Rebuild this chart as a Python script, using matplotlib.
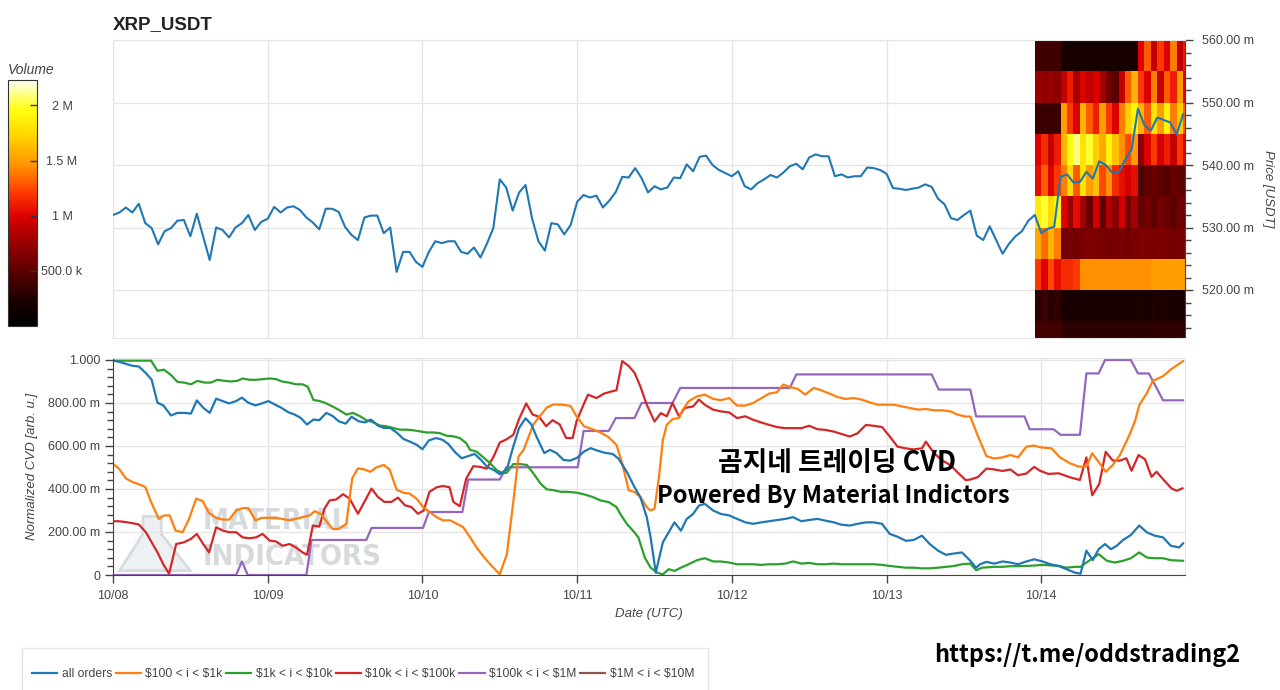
import numpy as np
import matplotlib
matplotlib.use("Agg")
import matplotlib.pyplot as plt
from matplotlib.colors import LinearSegmentedColormap
from matplotlib.ticker import FixedLocator, FuncFormatter, AutoMinorLocator
from matplotlib.patches import Polygon, Rectangle

plt.rcParams['font.family'] = ['Liberation Sans', 'DejaVu Sans']

# ---------------- data ----------------
title = "XRP_USDT"
day_labels = ["10/08", "10/09", "10/10", "10/11", "10/12", "10/13", "10/14"]
day_hours = [0, 24, 48, 72, 96, 120, 144]

# hourly price (milli-USDT), hour 0 = 10/08 00:00 UTC
price_hours = list(range(167))
price_musdt = [
    532.0, 532.4, 533.2, 532.4, 533.8, 530.7, 529.9, 527.3, 529.4, 529.9,
    531.1, 531.2, 528.6, 532.2, 528.5, 524.8, 530.0, 529.6, 528.4, 530.0,
    530.7, 532.0, 529.6, 530.9, 531.4, 533.3, 532.4, 533.2, 533.4, 532.8,
    531.6, 530.8, 529.7, 533.0, 533.0, 532.5, 530.1, 528.8, 528.0, 531.6,
    531.9, 531.9, 529.1, 530.0, 522.9, 526.1, 526.1, 524.5, 523.7, 526.1,
    527.8, 527.5, 527.8, 527.8, 526.1, 525.8, 526.8, 525.2, 527.4, 529.9,
    537.7, 536.4, 532.7, 535.6, 536.8, 531.5, 527.8, 526.3, 530.7, 530.5,
    528.9, 530.4, 534.1, 535.2, 534.8, 535.1, 533.2, 534.3, 535.7, 538.1,
    538.0, 539.5, 537.9, 535.6, 536.6, 536.1, 536.4, 538.0, 537.9, 540.1,
    539.0, 541.3, 541.5, 540.0, 539.2, 538.7, 538.2, 539.0, 536.6, 536.1,
    537.1, 537.7, 538.4, 538.0, 538.8, 539.8, 540.2, 539.3, 541.2, 541.7,
    541.4, 541.4, 538.2, 538.5, 538.0, 538.2, 538.2, 539.6, 539.5, 539.2,
    538.6, 536.3, 536.2, 536.0, 536.2, 536.4, 536.9, 536.5, 534.6, 533.7,
    531.5, 531.2, 532.0, 532.7, 528.7, 528.0, 530.2, 528.0, 525.8, 527.4,
    528.6, 529.4, 531.1, 532.0, 529.1, 529.8, 530.1, 538.1, 538.5, 537.2,
    537.3, 538.9, 537.8, 540.6, 540.0, 538.8, 538.8, 540.8, 542.4, 549.0,
    546.4, 545.5, 547.6, 547.2, 546.8, 544.9, 548.1,
]

# volume profile heatmap (millions), rows = price bins 510..560 step 5 (bottom->top), cols = hours 143..166
vol_hour_edges = list(range(143, 168))
vol_price_edges_musdt = [510, 515, 520, 525, 530, 535, 540, 545, 550, 555, 560]
volume_M = [
    [0.40, 0.40, 0.38, 0.40, 0.32, 0.30, 0.30, 0.32, 0.30, 0.30, 0.32, 0.30, 0.30, 0.32, 0.30, 0.30, 0.32, 0.30, 0.32, 0.30, 0.30, 0.32, 0.30, 0.30],
    [0.30, 0.35, 0.28, 0.32, 0.22, 0.22, 0.22, 0.22, 0.22, 0.22, 0.22, 0.22, 0.22, 0.22, 0.22, 0.22, 0.24, 0.22, 0.24, 0.22, 0.24, 0.22, 0.22, 0.22],
    [1.20, 1.00, 1.25, 1.05, 1.15, 1.15, 1.20, 1.45, 1.45, 1.45, 1.45, 1.45, 1.45, 1.45, 1.45, 1.45, 1.45, 1.45, 1.50, 1.50, 1.50, 1.50, 1.50, 1.50],
    [1.55, 1.35, 1.60, 1.40, 0.60, 0.62, 0.60, 0.62, 0.65, 0.63, 0.62, 0.60, 0.62, 0.63, 0.60, 0.62, 0.65, 0.63, 0.62, 0.64, 0.62, 0.60, 0.62, 0.63],
    [1.85, 2.00, 1.75, 1.90, 1.00, 0.75, 1.05, 0.80, 0.55, 0.95, 0.50, 0.85, 0.70, 0.95, 0.60, 0.80, 0.55, 0.60, 0.50, 0.60, 0.55, 0.50, 0.60, 0.55],
    [1.05, 1.30, 1.00, 1.20, 1.40, 1.75, 1.30, 1.80, 1.50, 1.65, 1.25, 1.45, 1.15, 1.05, 0.95, 1.05, 0.45, 0.50, 0.55, 0.50, 0.45, 0.55, 0.50, 0.50],
    [1.00, 1.15, 0.90, 1.10, 1.60, 1.95, 2.10, 1.80, 2.00, 1.70, 1.55, 1.90, 1.65, 1.45, 1.25, 1.50, 0.70, 1.00, 1.20, 0.95, 1.10, 0.90, 1.20, 1.00],
    [0.35, 0.35, 0.35, 0.35, 1.50, 1.20, 1.00, 1.60, 1.30, 1.10, 1.50, 1.20, 1.00, 1.40, 1.70, 1.90, 1.60, 1.30, 1.80, 1.50, 1.90, 1.40, 1.70, 1.30],
    [0.75, 0.70, 0.75, 0.70, 0.90, 1.10, 0.80, 1.00, 0.90, 1.00, 0.80, 0.60, 0.50, 0.90, 1.30, 1.60, 1.20, 1.00, 1.40, 0.90, 1.30, 1.10, 1.50, 1.00],
    [0.38, 0.38, 0.38, 0.38, 0.20, 0.20, 0.20, 0.20, 0.20, 0.20, 0.20, 0.20, 0.20, 0.20, 0.20, 0.20, 1.00, 1.30, 0.90, 1.20, 1.00, 1.40, 0.90, 1.10],
]
vol_ticks_M = [0.5, 1.0, 1.5, 2.0]
vol_tick_labels = ["500.0 k", "1 M", "1.5 M", "2 M"]

# normalized CVD series (hours, value)
all_t = [0, 0.9, 3.0, 4.0, 5.1, 6.0, 6.9, 7.8, 9.0, 10.0, 11.0, 12.1, 13.0, 14.0, 15.0, 16.0, 17.0, 18.0, 19.1, 20.0,
         21.0, 22.1, 23.1, 24.1, 25.1, 26.1, 27.2, 28.2, 29.1, 30.1, 31.1, 32.0, 33.1, 34.1, 35.0, 36.1, 37.0, 38.1, 39.1, 40.0,
         41.1, 42.0, 43.0, 44.1, 45.1, 46.0, 47.1, 48.0, 49.0, 50.1, 51.1, 52.0, 53.1, 54.1, 55.2, 56.1, 57.1, 58.1, 59.1, 60.0,
         61.1, 62.1, 63.0, 64.0, 64.9, 65.8, 66.9, 67.8, 68.8, 69.9, 70.9, 72.0, 73.1, 74.1, 75.0,
         76.2, 77.5, 78.4, 79.7, 80.9, 81.8, 82.8, 83.4, 84.2, 85.3, 86.2, 87.1, 88.1, 89.0, 90.0, 90.9, 91.8, 93.1, 94.3, 95.6,
         96.8, 98.1, 99.3, 100.6, 102.4, 104.3, 105.5, 106.8, 108.0, 109.3, 110.5, 111.8, 113.0, 114.3, 115.5, 116.8, 118.0, 119.3,
         120.5, 121.7, 123.0, 124.2, 125.5, 126.7, 128.0, 129.2, 130.5, 131.7, 133.0, 133.9, 134.5, 135.5, 136.7, 138.0, 139.2,
         140.4, 141.7, 142.9, 144.2, 145.4, 146.7, 147.9, 149.2, 150.1, 151.0, 152.0, 152.9, 153.9, 154.8, 155.7, 156.7, 157.9,
         159.2, 160.4, 161.6, 162.9, 164.1, 165.4, 166.0]
all_v = [0.997, 0.992, 0.973, 0.970, 0.939, 0.908, 0.801, 0.789, 0.742, 0.754, 0.754, 0.751, 0.812, 0.778, 0.754, 0.820, 0.809, 0.798, 0.809, 0.825,
         0.801, 0.789, 0.798, 0.809, 0.793, 0.778, 0.757, 0.746, 0.731, 0.700, 0.723, 0.720, 0.754, 0.739, 0.715, 0.704, 0.736, 0.715, 0.710, 0.723,
         0.695, 0.684, 0.684, 0.660, 0.632, 0.621, 0.606, 0.585, 0.626, 0.637, 0.629, 0.610, 0.570, 0.543, 0.554, 0.563, 0.535, 0.501, 0.488, 0.469,
         0.491, 0.598, 0.684, 0.729, 0.700, 0.637, 0.567, 0.582, 0.567, 0.535, 0.532, 0.545, 0.575, 0.590, 0.580,
         0.569, 0.563, 0.542, 0.480, 0.409, 0.363, 0.269, 0.175, 0.011, 0.152, 0.198, 0.245, 0.206, 0.261, 0.284, 0.323, 0.331, 0.300, 0.284, 0.277,
         0.261, 0.245, 0.238, 0.245, 0.253, 0.261, 0.269, 0.250, 0.256, 0.261, 0.253, 0.245, 0.234, 0.230, 0.238, 0.245, 0.245, 0.238,
         0.191, 0.178, 0.159, 0.163, 0.183, 0.144, 0.113, 0.094, 0.100, 0.105, 0.066, 0.034, 0.050, 0.061, 0.053, 0.063, 0.058,
         0.050, 0.063, 0.073, 0.063, 0.050, 0.042, 0.027, 0.011, 0.006, 0.113, 0.069, 0.120, 0.144, 0.120, 0.136, 0.163, 0.186,
         0.230, 0.198, 0.183, 0.175, 0.136, 0.128, 0.147]

o100_t = [0, 0.9, 2.0, 3.0, 4.0, 5.0, 5.9, 7.1, 7.9, 8.8, 9.7, 10.8, 11.8, 12.9, 13.9, 14.9, 16.0, 17.0, 18.0, 19.1,
          20.1, 21.0, 22.1, 23.1, 24.2, 25.2, 26.2, 27.3, 28.4, 29.4, 30.5, 31.3, 32.3, 33.1, 34.1, 35.0, 36.2, 37.1, 38.0, 39.0,
          39.9, 40.9, 42.0, 42.9, 44.0, 45.1, 46.0, 47.1, 48.1, 49.1, 50.2, 51.2, 52.3, 53.3, 54.3, 55.4, 56.4, 57.4, 58.5, 59.5,
          60.0, 61.1, 62.1, 62.9, 63.7, 64.4, 65.2, 66.3, 67.3, 68.3, 69.4, 70.4, 71.0,
          71.9, 73.1, 74.4, 75.6, 76.9, 78.1, 79.0, 80.0, 80.9, 81.8, 82.8, 83.4, 84.0, 84.7, 85.3, 85.9, 86.8, 87.8, 88.4, 89.3,
          90.6, 91.8, 93.1, 94.3, 95.6, 96.8, 98.1, 99.3, 100.6, 101.8, 103.0, 104.0, 104.9, 106.2, 107.4, 108.7, 109.9, 111.1,
          112.4, 113.6, 114.9, 116.1, 117.4, 118.6, 119.9, 121.1, 122.4, 123.6, 124.9, 126.1, 127.4, 128.6, 129.9, 131.1, 132.3,
          133.0, 134.2, 135.5, 136.7, 138.0, 139.2, 140.4, 141.7, 142.9, 143.8, 145.6, 146.9, 148.5, 149.8, 151.0, 151.9, 153.0,
          154.0, 155.1, 156.2, 157.2, 158.0, 158.6, 159.2, 160.4, 161.3, 162.9, 164.1, 166.0]
o100_v = [0.516, 0.496, 0.449, 0.433, 0.422, 0.410, 0.340, 0.261, 0.277, 0.277, 0.207, 0.199, 0.261, 0.355, 0.344, 0.288, 0.266, 0.258, 0.257, 0.300,
          0.311, 0.311, 0.254, 0.266, 0.266, 0.266, 0.261, 0.254, 0.261, 0.269, 0.277, 0.297, 0.282, 0.250, 0.214, 0.214, 0.238, 0.449, 0.496, 0.491,
          0.480, 0.501, 0.512, 0.491, 0.397, 0.382, 0.379, 0.355, 0.316, 0.293, 0.269, 0.254, 0.254, 0.239, 0.223, 0.175, 0.128, 0.089, 0.050, 0.019,
          0.003, 0.097, 0.340, 0.551, 0.582, 0.637, 0.700, 0.742, 0.779, 0.793, 0.793, 0.789, 0.786,
          0.738, 0.691, 0.678, 0.663, 0.641, 0.605, 0.519, 0.394, 0.386, 0.363, 0.316, 0.300, 0.308, 0.456, 0.628, 0.698, 0.725, 0.730, 0.769, 0.808,
          0.831, 0.839, 0.819, 0.813, 0.823, 0.788, 0.788, 0.800, 0.823, 0.844, 0.850, 0.886, 0.875, 0.866, 0.839, 0.870, 0.859, 0.844,
          0.828, 0.819, 0.823, 0.816, 0.803, 0.792, 0.792, 0.792, 0.784, 0.777, 0.769, 0.772, 0.766, 0.766, 0.761, 0.745, 0.737,
          0.737, 0.644, 0.553, 0.542, 0.547, 0.558, 0.547, 0.597, 0.602, 0.594, 0.589, 0.547, 0.519, 0.504, 0.504, 0.566, 0.522,
          0.480, 0.512, 0.558, 0.620, 0.674, 0.721, 0.790, 0.847, 0.902, 0.925, 0.956, 0.995]

o1k_t = [0, 3.0, 5.9, 6.9, 7.9, 9.0, 10.0, 11.0, 12.1, 13.1, 14.2, 15.2, 16.2, 17.3, 18.3, 19.3, 20.1, 21.2, 22.2, 23.2,
         24.3, 25.3, 26.2, 27.3, 28.4, 29.4, 30.2, 31.1, 32.1, 33.1, 34.1, 35.1, 36.2, 37.2, 38.3, 39.3, 40.3, 41.4, 42.4, 43.4,
         44.5, 45.5, 46.6, 47.6, 48.6, 49.7, 50.7, 51.7, 52.8, 53.8, 54.8, 55.4, 56.4, 57.4, 58.5, 59.5, 60.5, 61.1, 62.1, 63.1,
         64.2, 65.2, 66.3, 67.3, 68.3, 69.4, 70.4, 71.9,
         73.1, 74.4, 75.6, 76.9, 78.1, 78.7, 79.7, 80.9, 81.5, 82.5, 83.4, 84.4, 85.3, 86.2, 87.1, 88.1, 89.3, 90.6, 91.8, 93.1,
         94.3, 95.6, 96.8, 98.1, 99.3, 100.6, 101.8, 103.0, 104.3, 105.5, 106.8, 108.0, 109.3, 110.5, 111.8, 113.0, 114.3, 115.5,
         116.8, 118.0, 119.3, 120.5, 121.7, 123.0, 124.2, 125.5, 126.7, 128.0, 129.2, 130.5, 131.7, 133.0, 133.9, 134.8, 136.7,
         138.0, 139.2, 140.4, 141.7, 142.9, 144.2, 145.4, 146.7, 147.9, 149.2, 150.1, 151.0, 152.9, 154.2, 155.4, 156.7, 157.9,
         159.2, 160.4, 161.6, 162.9, 164.1, 166.0]
o1k_v = [0.997, 0.997, 0.997, 0.950, 0.955, 0.930, 0.898, 0.895, 0.887, 0.903, 0.895, 0.895, 0.908, 0.903, 0.900, 0.903, 0.914, 0.908, 0.908, 0.911,
         0.914, 0.911, 0.900, 0.895, 0.887, 0.887, 0.876, 0.814, 0.809, 0.798, 0.783, 0.767, 0.746, 0.754, 0.739, 0.720, 0.711, 0.695, 0.692, 0.684,
         0.676, 0.676, 0.673, 0.668, 0.663, 0.663, 0.660, 0.648, 0.645, 0.637, 0.613, 0.582, 0.574, 0.548, 0.520, 0.488, 0.473, 0.476, 0.516, 0.516,
         0.512, 0.473, 0.426, 0.398, 0.395, 0.387, 0.387, 0.383,
         0.375, 0.363, 0.347, 0.339, 0.316, 0.284, 0.238, 0.198, 0.175, 0.081, 0.034, 0.011, 0.003, 0.027, 0.019, 0.034, 0.050, 0.069, 0.078, 0.063,
         0.063, 0.058, 0.050, 0.050, 0.050, 0.047, 0.050, 0.050, 0.053, 0.063, 0.053, 0.056, 0.050, 0.050, 0.053, 0.050, 0.050, 0.050,
         0.050, 0.050, 0.047, 0.042, 0.038, 0.034, 0.034, 0.031, 0.031, 0.034, 0.038, 0.042, 0.050, 0.053, 0.022, 0.034, 0.038,
         0.038, 0.041, 0.041, 0.042, 0.044, 0.047, 0.045, 0.042, 0.034, 0.038, 0.038, 0.058, 0.097, 0.066, 0.058, 0.066, 0.078,
         0.105, 0.081, 0.078, 0.078, 0.069, 0.066]

o10k_t = [0, 0.9, 2.0, 3.0, 4.0, 5.1, 6.0, 6.9, 7.8, 8.7, 9.8, 11.0, 12.1, 13.0, 14.0, 14.9, 16.0, 17.0, 18.0, 19.1,
          20.1, 21.2, 22.2, 23.2, 24.3, 25.3, 26.3, 27.4, 28.4, 29.4, 30.1, 31.0, 32.0, 32.8, 33.6, 34.6, 35.7, 36.7, 38.0, 39.0,
          40.1, 41.1, 42.1, 43.2, 44.2, 45.3, 46.3, 47.3, 48.2, 49.1, 50.2, 51.2, 52.2, 52.8, 53.8, 54.8, 55.9, 56.9, 58.0, 59.1,
          60.0, 61.1, 62.1, 63.0, 64.1, 65.1, 66.1, 67.2, 68.2, 69.3, 70.3, 71.3,
          71.9, 73.1, 73.7, 75.0, 76.2, 77.5, 78.1, 79.0, 80.0, 80.9, 81.8, 82.8, 84.0, 85.0, 85.9, 86.8, 87.8, 88.7, 90.0, 90.9,
          91.8, 93.1, 94.3, 95.6, 96.8, 98.1, 99.3, 100.6, 101.8, 103.0, 104.3, 105.5, 106.8, 108.0, 109.3, 110.5, 111.8, 113.0,
          114.3, 115.5, 116.8, 118.0, 119.3, 120.5, 121.7, 123.0, 124.2, 125.5, 126.1, 127.4, 128.6, 129.9, 131.1, 132.3, 133.0,
          134.2, 135.5, 136.7, 138.0, 139.2, 140.4, 141.7, 142.9, 143.8, 145.1, 146.7, 148.5, 150.0, 151.0, 151.9, 153.0, 154.0,
          155.1, 156.2, 157.2, 158.0, 159.1, 160.1, 161.1, 161.9, 163.0, 164.2, 165.0, 165.9]
o10k_v = [0.250, 0.250, 0.246, 0.241, 0.235, 0.199, 0.152, 0.105, 0.050, 0.006, 0.144, 0.152, 0.168, 0.191, 0.144, 0.105, 0.222, 0.207, 0.199, 0.199,
          0.175, 0.171, 0.175, 0.191, 0.160, 0.156, 0.136, 0.144, 0.128, 0.105, 0.094, 0.230, 0.225, 0.308, 0.347, 0.351, 0.376, 0.355, 0.285, 0.340,
          0.402, 0.363, 0.340, 0.340, 0.360, 0.324, 0.316, 0.285, 0.300, 0.387, 0.408, 0.414, 0.408, 0.340, 0.320, 0.449, 0.506, 0.503, 0.495, 0.554,
          0.616, 0.632, 0.652, 0.726, 0.798, 0.746, 0.736, 0.692, 0.720, 0.700, 0.637, 0.637,
          0.714, 0.800, 0.839, 0.823, 0.844, 0.855, 0.859, 0.995, 0.972, 0.941, 0.878, 0.792, 0.714, 0.753, 0.738, 0.800, 0.738, 0.777, 0.784, 0.816,
          0.792, 0.769, 0.761, 0.756, 0.730, 0.738, 0.722, 0.709, 0.698, 0.688, 0.683, 0.683, 0.683, 0.694, 0.678, 0.675, 0.667, 0.656,
          0.644, 0.659, 0.698, 0.694, 0.688, 0.644, 0.597, 0.589, 0.584, 0.589, 0.620, 0.566, 0.534, 0.511, 0.475, 0.441, 0.444,
          0.456, 0.495, 0.491, 0.484, 0.491, 0.464, 0.472, 0.503, 0.485, 0.470, 0.473, 0.454, 0.442, 0.547, 0.371, 0.423, 0.573,
          0.532, 0.532, 0.543, 0.485, 0.558, 0.538, 0.457, 0.480, 0.442, 0.403, 0.392, 0.403]

o100k_t = [0, 19.1, 20.0, 20.9, 30.0, 30.8, 39.3, 40.1, 48.1, 49.0, 54.2, 55.1, 60.0, 61.0, 72.1, 73.0, 76.9, 78.0, 80.9, 82.0,
           86.8, 88.0, 105.0, 106.0, 127.0, 128.1, 133.0, 133.9, 141.4, 142.2, 145.9, 147.0, 150.0, 151.0, 152.9, 153.9, 157.9,
           159.0, 160.7, 162.9, 166.0]
o100k_v = [0, 0, 0.063, 0, 0, 0.163, 0.163, 0.219, 0.219, 0.293, 0.293, 0.444, 0.444, 0.501, 0.501, 0.670, 0.670, 0.730, 0.730, 0.800,
           0.800, 0.870, 0.870, 0.933, 0.933, 0.8625, 0.8625, 0.7375, 0.7375, 0.678, 0.678, 0.652, 0.652, 0.9375, 0.9375, 1.0, 1.0,
           0.9375, 0.9375, 0.8125, 0.8125]

o1m_t = []
o1m_v = []

series_labels = ["all orders", r"\$100 < i < \$1k", r"\$1k < i < \$10k", r"\$10k < i < \$100k",
                 r"\$100k < i < \$1M", r"\$1M < i < \$10M"]
series_colors = ["#1f77b4", "#ff7f0e", "#2ca02c", "#d62728", "#9467bd", "#8c564b"]

cvd_ticks = [0, 0.2, 0.4, 0.6, 0.8, 1.0]
cvd_tick_labels = ["0", "200.00 m", "400.00 m", "600.00 m", "800.00 m", "1.000"]
price_ticks_musdt = [520, 530, 540, 550, 560]

# ---------------- figure ----------------
W, H = 1280, 690
fig = plt.figure(figsize=(W / 100, H / 100), dpi=100)
fig.patch.set_facecolor("white")

def fr(x0, y0, x1, y1):
    return [x0 / W, 1 - y1 / H, (x1 - x0) / W, (y1 - y0) / H]

axc = "#444444"
grid_c = "#e6e6e6"
tick_fs = 9
XMAX = 166.3

# ---- top: price ----
ax1 = fig.add_axes(fr(113, 40, 1185, 338))
cmap = LinearSegmentedColormap.from_list("vol", [
    (0.00, "#000000"), (0.10, "#1a0000"), (0.22, "#5a0000"), (0.35, "#a00000"),
    (0.45, "#e00000"), (0.55, "#ff4000"), (0.65, "#ff9000"), (0.78, "#ffd800"),
    (0.88, "#ffff10"), (0.95, "#ffff90"), (1.00, "#fffff5")])
vmax = 2.23
pe = np.array(vol_price_edges_musdt) / 1000.0
mesh = ax1.pcolormesh(np.array(vol_hour_edges, float), pe, np.array(volume_M), cmap=cmap,
                      vmin=0, vmax=vmax, shading="flat", zorder=1)
ax1.plot(price_hours, np.array(price_musdt) / 1000.0, color="#1f77b4", lw=1.5, zorder=3)
ax1.set_xlim(0, XMAX)
ax1.set_ylim(0.51232, 0.560)
ax1.yaxis.tick_right()
ax1.yaxis.set_label_position("right")
ax1.yaxis.set_major_locator(FixedLocator([p / 1000 for p in price_ticks_musdt]))
ax1.yaxis.set_minor_locator(AutoMinorLocator(5))
ax1.yaxis.set_major_formatter(FuncFormatter(lambda v, _: f"{v*1000:.2f} m"))
ax1.xaxis.set_major_locator(FixedLocator(day_hours))
ax1.tick_params(axis="x", length=0, labelbottom=False)
ax1.tick_params(axis="y", which="major", length=6, width=1, color=axc, labelsize=tick_fs, labelcolor=axc, pad=6)
ax1.tick_params(axis="y", which="minor", length=4, width=1, color=axc)
ax1.grid(True, color=grid_c, lw=1, zorder=0)
ax1.set_axisbelow(True)
for s in ["top", "left", "bottom"]:
    ax1.spines[s].set_color("#e5e5e5")
ax1.spines["right"].set_color(axc)
ax1.set_ylabel("Price [USDT]", rotation=-90, fontstyle="italic", fontsize=9.5, color=axc, va="center")
ax1.yaxis.set_label_coords(1.0774, 0.5)
fig.text(113 / W, 1 - 25 / H, title, fontsize=13.5, fontweight="bold", ha="left", va="center", color="#222222")

# ---- colorbar ----
cax = fig.add_axes(fr(8, 80, 37, 326))
cb = fig.colorbar(mesh, cax=cax, ticks=vol_ticks_M)
cb.ax.set_yticklabels(vol_tick_labels)
cb.outline.set_edgecolor("#333333")
cb.ax.tick_params(direction="in", length=5, width=1, color="#333333", labelsize=tick_fs, labelcolor=axc, pad=18)
for lab in cb.ax.get_yticklabels():
    lab.set_horizontalalignment("center")
cb.ax.minorticks_off()
fig.text(8 / W, 1 - 70 / H, "Volume", fontsize=10, fontstyle="italic", color=axc, ha="left", va="center")

# ---- bottom: CVD ----
ax2 = fig.add_axes(fr(113, 358, 1185, 575))
flask = Polygon([(0.006, 0.02), (0.072, 0.02), (0.045, 0.19), (0.045, 0.27), (0.028, 0.27), (0.028, 0.19)],
                closed=True, transform=ax2.transAxes, facecolor="#eef1f3", edgecolor="#d7dbdf", lw=2, zorder=0.5)
ax2.add_patch(flask)
wm_kw = dict(transform=ax2.transAxes, fontsize=21, fontweight="bold", color="#d0d4d8", alpha=0.85,
             family=["DejaVu Sans"], fontstretch="condensed", ha="left", va="center", zorder=0.6)
ax2.text(0.084, 0.25, "MATERIAL", **wm_kw)
ax2.text(0.084, 0.085, "INDICATORS", **wm_kw)

series = [(all_t, all_v), (o100_t, o100_v), (o1k_t, o1k_v), (o10k_t, o10k_v), (o100k_t, o100k_v), (o1m_t, o1m_v)]
lines = {}
for i in [5, 4, 3, 2, 1, 0]:
    t, v = series[i]
    ln, = ax2.plot(t, v, color=series_colors[i], lw=1.6, zorder=2 + (5 - i) * 0.01, label=series_labels[i])
    lines[i] = ln
handles = [lines[i] for i in range(6)]

ax2.set_xlim(0, XMAX)
ax2.set_ylim(0, 1.0093)
ax2.xaxis.set_major_locator(FixedLocator(day_hours))
ax2.set_xticklabels(day_labels)
ax2.yaxis.set_major_locator(FixedLocator(cvd_ticks))
ax2.set_yticklabels(cvd_tick_labels)
ax2.yaxis.set_minor_locator(AutoMinorLocator(5))
ax2.tick_params(axis="both", which="major", length=6, width=1, color=axc, labelsize=tick_fs, labelcolor=axc)
ax2.tick_params(axis="x", which="major", pad=5)
ax2.tick_params(axis="y", which="major", pad=3)
ax2.tick_params(axis="y", which="minor", length=4, width=1, color=axc)
ax2.grid(True, color=grid_c, lw=1, zorder=0)
ax2.set_axisbelow(True)
for s in ["top", "right"]:
    ax2.spines[s].set_color("#e5e5e5")
for s in ["left", "bottom"]:
    ax2.spines[s].set_color(axc)
ax2.set_ylabel("Normalized CVD [arb. u.]", fontstyle="italic", fontsize=9.5, color=axc, va="center")
ax2.yaxis.set_label_coords(-0.0756, 0.5)
ax2.set_xlabel("Date (UTC)", fontstyle="italic", fontsize=9.5, color=axc, va="center")
ax2.xaxis.set_label_coords(0.5, -0.18)

# ---- overlay texts ----
kfam = ["Noto Sans CJK KR", "DejaVu Sans"]
fig.text(837 / W, 1 - 463 / H, "곰지네 트레이딩 CVD", family=kfam, fontsize=19.3, fontweight="bold",
         ha="center", va="center", color="black", zorder=10)
fig.text(833 / W, 1 - 496 / H, "Powered By Material Indictors", family=kfam, fontsize=17.1, fontweight="bold",
         ha="center", va="center", color="black", zorder=10)
fig.text(1087 / W, 1 - 655 / H, "https://t.me/oddstrading2", family=kfam, fontsize=16.9, fontweight="bold",
         ha="center", va="center", color="black", zorder=10)

# ---- legend ----
fig.patches.append(Rectangle((22 / W, 1 - 698 / H), (708 - 22) / W, 50 / H, transform=fig.transFigure,
                             facecolor="white", edgecolor="#e5e5e5", lw=1, zorder=1))
leg = fig.legend(handles=handles, labels=series_labels, loc="center left", bbox_to_anchor=(32 / W, 1 - 674 / H),
                 ncol=6, fontsize=8.7, frameon=False, handlelength=2.1, handletextpad=0.35,
                 columnspacing=0.3, borderpad=0, borderaxespad=0)
for txt in leg.get_texts():
    txt.set_color(axc)

fig.savefig("out.png", dpi=100)
